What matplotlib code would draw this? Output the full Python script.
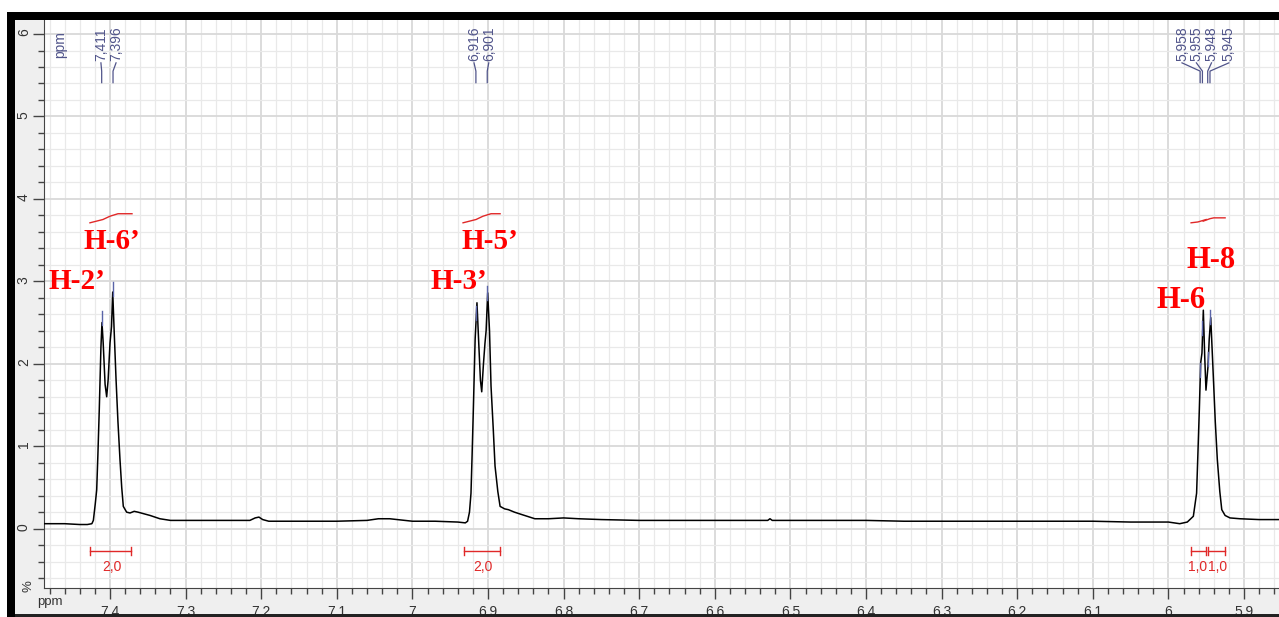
import numpy as np
import matplotlib
matplotlib.use('Agg')
import matplotlib.pyplot as plt
from matplotlib.patches import Rectangle
from matplotlib.ticker import MultipleLocator, FuncFormatter

# Spectrum (ppm, intensity)
ppm = [7.487, 7.46, 7.44, 7.43, 7.424, 7.422, 7.4195, 7.4176, 7.416, 7.4142,
       7.412, 7.4106, 7.409, 7.4065, 7.4044, 7.4025, 7.400, 7.398, 7.3964, 7.3945,
       7.392, 7.3895, 7.3868, 7.3845, 7.3824, 7.378, 7.3735, 7.368, 7.363, 7.355,
       7.347, 7.334, 7.32, 7.30, 7.25, 7.215, 7.208, 7.203, 7.198, 7.19,
       7.15, 7.10, 7.06, 7.045, 7.03, 7.02, 7.00, 6.97, 6.94, 6.93,
       6.927, 6.9245, 6.9225, 6.921, 6.9194, 6.917, 6.9146, 6.912, 6.910, 6.9083,
       6.906, 6.904, 6.9025, 6.9004, 6.898, 6.896, 6.893, 6.8907, 6.887, 6.884,
       6.878, 6.873, 6.865, 6.855, 6.838, 6.82, 6.80, 6.78, 6.75, 6.70,
       6.65, 6.60, 6.53, 6.527, 6.524, 6.45, 6.40, 6.35, 6.30, 6.25,
       6.20, 6.15, 6.10, 6.05, 6.00, 5.985, 5.975, 5.967, 5.9627, 5.961,
       5.9591, 5.9573, 5.9556, 5.9538, 5.952, 5.9503, 5.9476, 5.946, 5.944, 5.9406,
       5.938, 5.9353, 5.932, 5.9294, 5.925, 5.9185, 5.9053, 5.88, 5.854]
intensity = [0.06, 0.06, 0.05, 0.05, 0.06, 0.10, 0.30, 0.47, 0.90, 1.44,
             2.20, 2.50, 2.25, 1.75, 1.60, 1.80, 2.25, 2.45, 2.87, 2.40,
             1.81, 1.30, 0.84, 0.50, 0.27, 0.20, 0.19, 0.21, 0.20, 0.18,
             0.16, 0.12, 0.10, 0.10, 0.10, 0.10, 0.13, 0.14, 0.11, 0.09,
             0.09, 0.09, 0.10, 0.12, 0.12, 0.11, 0.09, 0.09, 0.08, 0.07,
             0.09, 0.20, 0.43, 0.90, 1.44, 2.30, 2.74, 2.20, 1.80, 1.66,
             2.00, 2.25, 2.40, 2.86, 2.40, 1.73, 1.20, 0.76, 0.45, 0.27,
             0.24, 0.23, 0.20, 0.17, 0.12, 0.12, 0.13, 0.12, 0.11, 0.10,
             0.10, 0.10, 0.10, 0.12, 0.10, 0.10, 0.10, 0.09, 0.09, 0.09,
             0.09, 0.09, 0.09, 0.08, 0.08, 0.06, 0.08, 0.15, 0.43, 0.90,
             1.44, 2.01, 2.13, 2.65, 2.10, 1.68, 1.97, 2.30, 2.56, 1.85,
             1.30, 0.84, 0.45, 0.23, 0.16, 0.13, 0.12, 0.11, 0.11]

# Picked peaks
peak_ppm = [7.411, 7.396, 6.916, 6.901, 5.958, 5.955, 5.948, 5.945]
peak_text = ['7,411', '7,396', '6,916', '6,901', '5,958', '5,955', '5,948', '5,945']
peak_text_x = [7.412, 7.392, 6.9185, 6.899, 5.982, 5.963, 5.943, 5.920]

# Integral curves
int_ppm = [[7.4265, 7.4093, 7.400, 7.3894, 7.3709],
           [6.933, 6.9158, 6.9066, 6.896, 6.884],
           [5.970, 5.961, 5.950],
           [5.954, 5.945, 5.940, 5.925]]
int_val = [[3.71, 3.75, 3.79, 3.82, 3.82],
           [3.71, 3.75, 3.79, 3.82, 3.82],
           [3.71, 3.72, 3.75],
           [3.73, 3.76, 3.77, 3.77]]

# Integral ranges and values
int_from = [7.4265, 6.932, 5.970, 5.948]
int_to = [7.372, 6.884, 5.950, 5.925]
int_text = ['2,0', '2,0', '1,0', '1,0']
int_text_x = [7.3974, 6.9066, 5.9613, 5.9352]

# Assignments
labels = ['H-6’', 'H-2’', 'H-5’', 'H-3’', 'H-8', 'H-6']
label_x = [7.4357, 7.482, 6.9357, 6.9767, 5.9754, 6.0151]
label_y = [3.39, 2.91, 3.39, 2.91, 3.16, 2.68]
label_size = [21, 21, 21, 21, 22, 22]

W, H = 1279, 617
fig = plt.figure(figsize=(W / 100, H / 100), dpi=100)
ax = fig.add_axes([44 / W, 29 / H, 1235 / W, 568 / H])

# window frame
def fig_rect(x0, y0, x1, y1, color, z):
    fig.add_artist(Rectangle((x0 / W, 1 - y1 / H), (x1 - x0) / W, (y1 - y0) / H,
                             transform=fig.transFigure, color=color, zorder=z, lw=0))

fig_rect(15, 20, 44, 617, '#efefef', -1)
fig_rect(15, 588, W, 617, '#efefef', -1)
fig_rect(7, 12, W, 20, 'black', 5)
fig_rect(7, 12, 15, 617, 'black', 5)
fig_rect(15, 614, W, 617, '#222222', 5)

# grid
ax.set_xlim(7.4873, 5.8537)
ax.set_ylim(-0.72, 6.17)
ax.xaxis.set_major_locator(MultipleLocator(0.1))
ax.xaxis.set_minor_locator(MultipleLocator(0.02))
ax.yaxis.set_major_locator(MultipleLocator(1))
ax.yaxis.set_minor_locator(MultipleLocator(0.2))
ax.grid(which='minor', color='#e9e9e9', lw=0.9)
ax.grid(which='major', color='#d9d9d9', lw=1.3)
ax.set_axisbelow(True)

comma = FuncFormatter(lambda v, p: f'{v:g}'.replace('.', ','))
ax.xaxis.set_major_formatter(comma)
ax.yaxis.set_major_formatter(comma)
ax.tick_params(which='major', length=8, width=1, color='#444444', labelsize=10,
               labelcolor='#333333', labelfontfamily='Liberation Sans')
ax.tick_params(which='minor', length=4.3, width=1, color='#444444')
ax.tick_params(axis='x', pad=4)
ax.tick_params(axis='y', pad=1.5, labelrotation=90)
for side in ['top', 'right']:
    ax.spines[side].set_visible(False)
for side in ['left', 'bottom']:
    ax.spines[side].set_color('#444444')

fig.text(50 / W, 1 - 602 / H, 'ppm', fontsize=9.5, color='#333333',
         family='Liberation Sans', ha='center', va='center')
fig.text(29 / W, 1 - 586 / H, '%', fontsize=9.5, color='#333333', rotation=90,
         family='Liberation Sans', ha='center', va='center')

# spectrum
ax.plot(ppm, intensity, color='black', lw=1.1, zorder=3)

# peak picking
blue = '#50548a'
ax.text(7.4661, 5.87, 'ppm', rotation=90, fontsize=10, color=blue,
        family='Liberation Sans', ha='center', va='center')
for p, t, tx in zip(peak_ppm, peak_text, peak_text_x):
    ax.text(tx, 5.67, t, rotation=90, fontsize=10, color=blue,
            family='Liberation Sans', ha='center', va='bottom')
    ax.plot([tx, p, p], [5.65, 5.55, 5.41], color=blue, lw=0.9)
    h = np.interp(p, ppm[::-1], intensity[::-1])
    ax.plot([p, p], [h + 0.05, h + 0.22], color='#5a64a8', lw=1, zorder=4)

# integrals
red = '#e02828'
for xs, ys in zip(int_ppm, int_val):
    ax.plot(xs, ys, color=red, lw=1)
for a, b, t, tx in zip(int_from, int_to, int_text, int_text_x):
    ax.plot([a, b], [-0.27, -0.27], color=red, lw=1)
    ax.plot([a, a], [-0.22, -0.32], color=red, lw=1)
    ax.plot([b, b], [-0.22, -0.32], color=red, lw=1)
    ax.text(tx, -0.47, t, fontsize=10, color=red, family='Liberation Sans',
            ha='center', va='center')

# assignments
for t, x, y, s in zip(labels, label_x, label_y, label_size):
    ax.text(x, y, t, fontsize=s, color='#ff0000', fontweight='bold',
            family='Liberation Serif', ha='left', va='baseline', zorder=6)

fig.savefig('out.png', dpi=100)
